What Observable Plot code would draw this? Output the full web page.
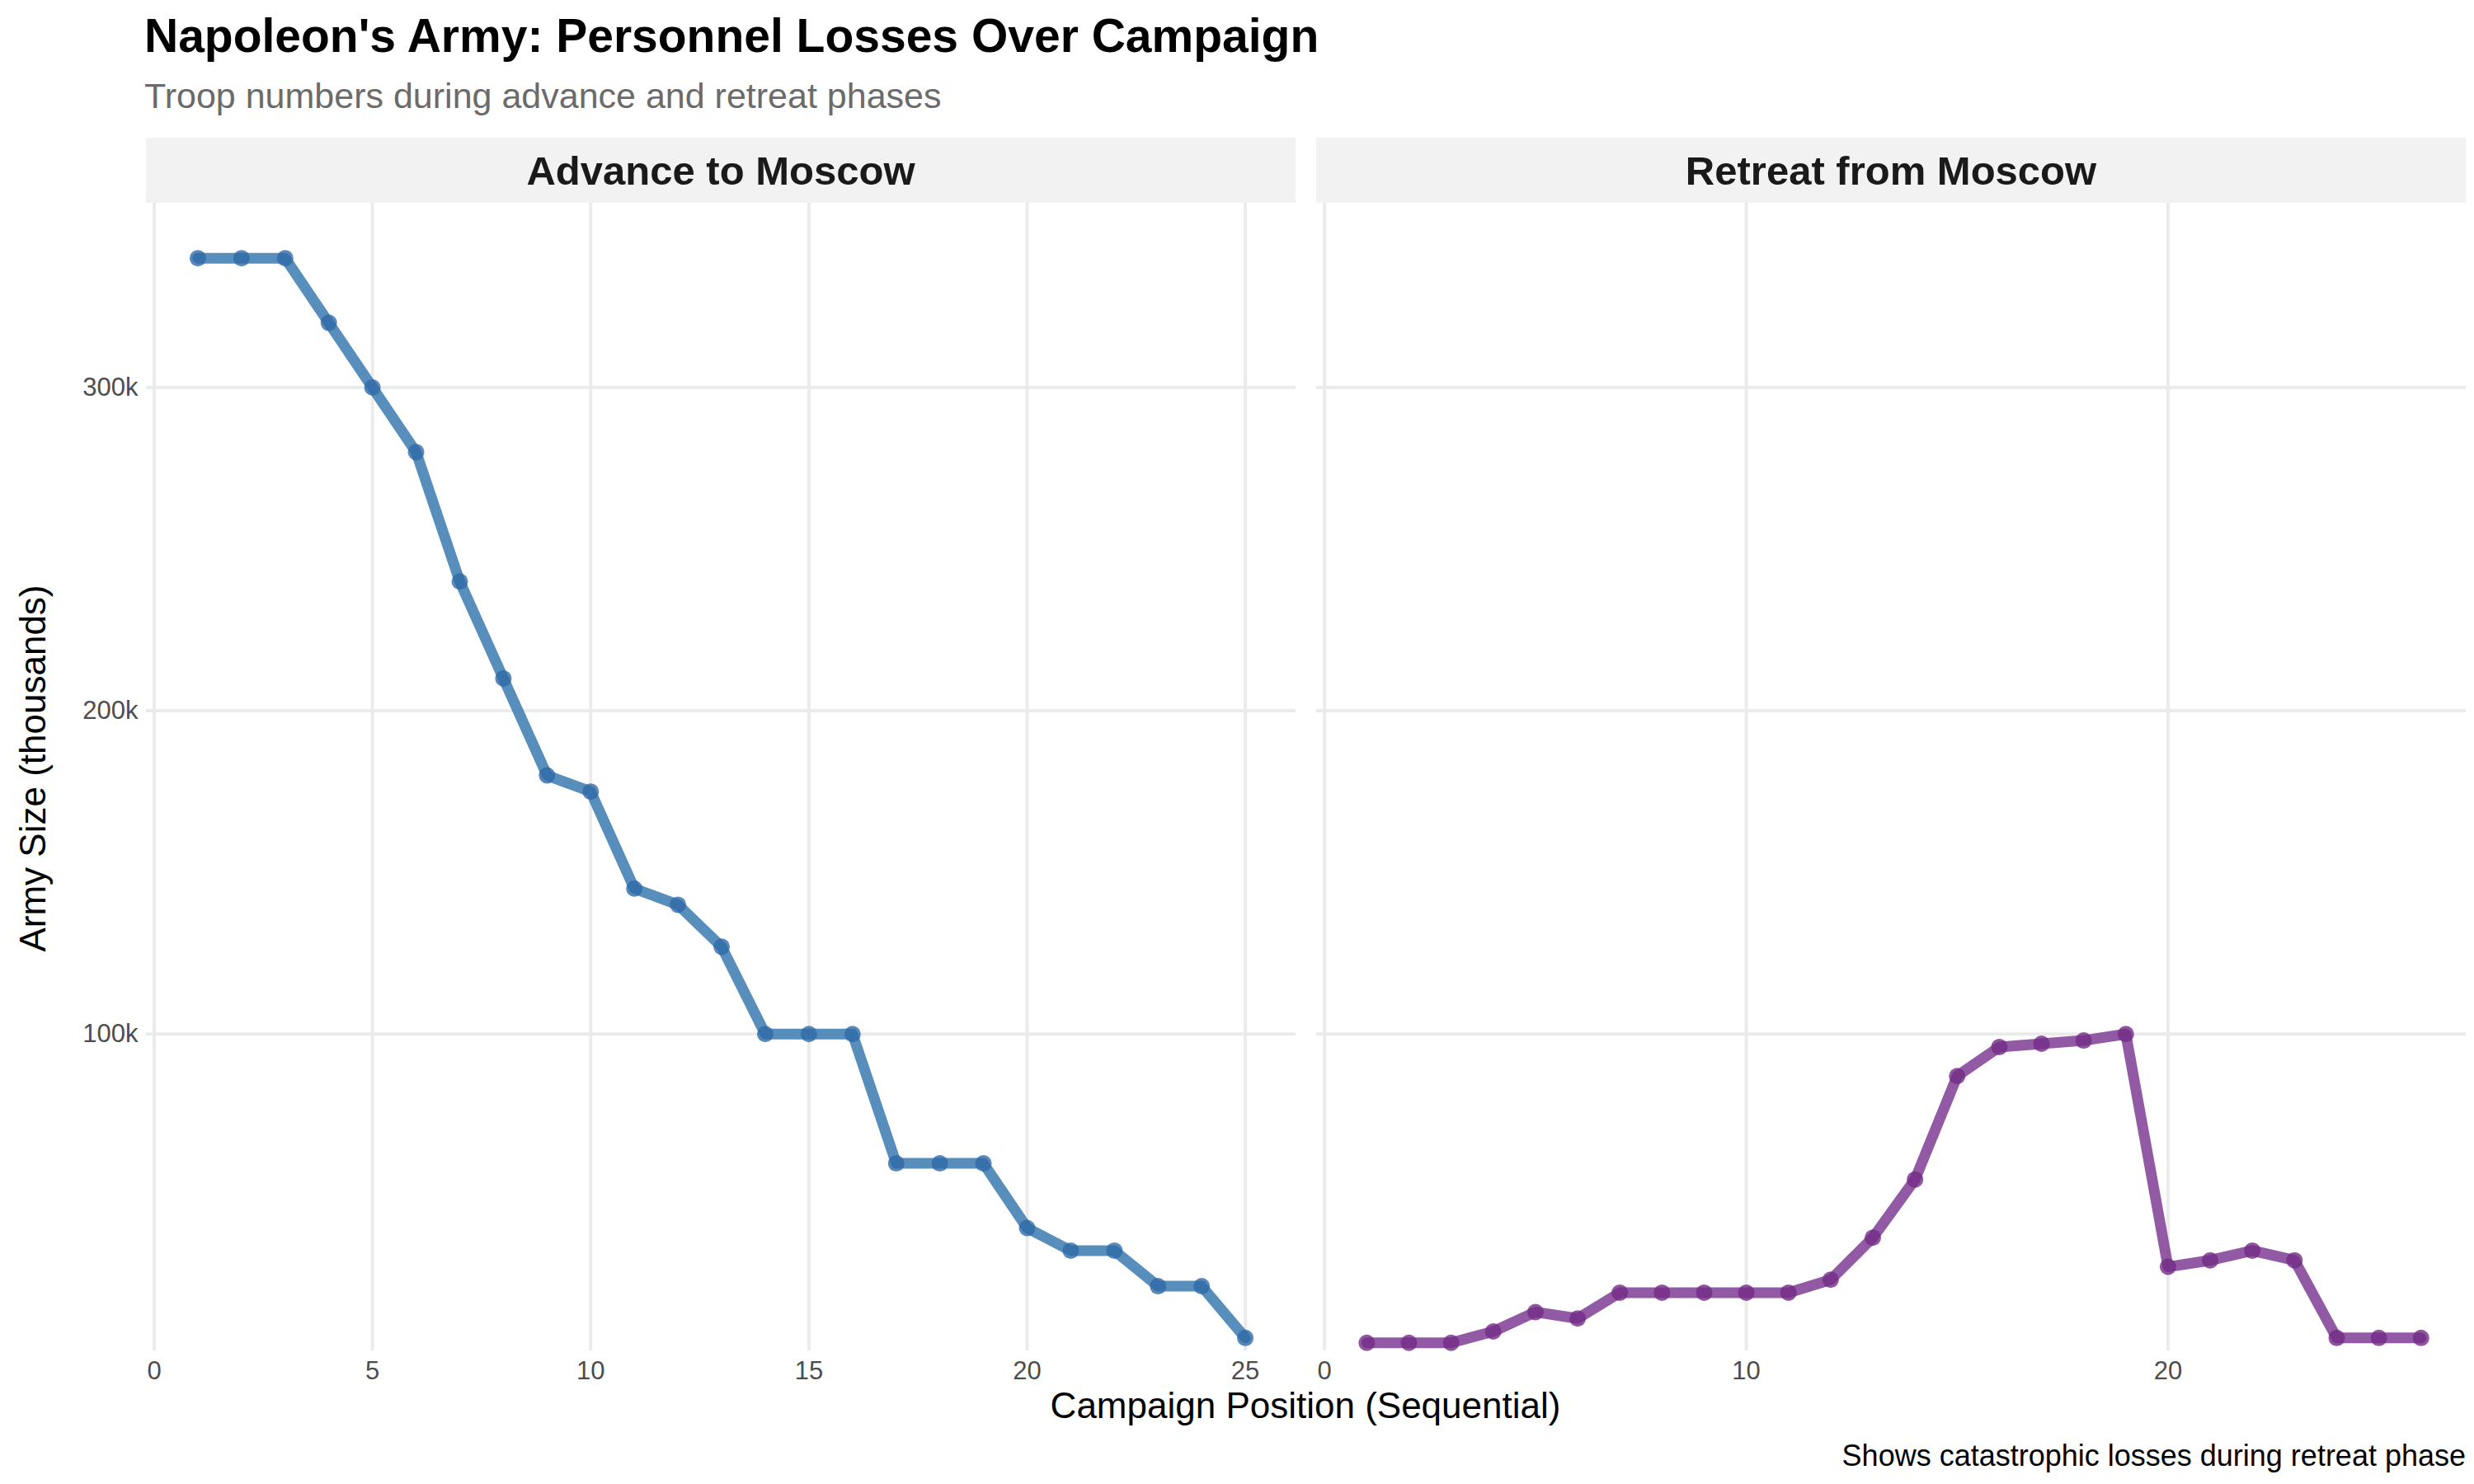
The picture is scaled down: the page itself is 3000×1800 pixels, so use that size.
<!DOCTYPE html>
<html><head><meta charset="utf-8">
<script src="https://cdn.jsdelivr.net/npm/d3@7"></script>
<script src="https://cdn.jsdelivr.net/npm/@observablehq/plot@0.6"></script>
<style>
body{margin:0;background:#fff;font-family:"Liberation Sans",Arial,sans-serif}
#wrap{position:relative;width:3000px;height:1800px}
.abs{position:absolute}
.strip{background:#f2f2f2;height:79px;top:167px;font-weight:bold;font-size:49px;color:#1a1a1a;display:flex;align-items:center;justify-content:center}
</style></head>
<body><div id="wrap">
<div class="abs" style="left:175px;top:10px;font-size:57px;font-weight:bold;color:#000">Napoleon's Army: Personnel Losses Over Campaign</div>
<div class="abs" style="left:175px;top:92px;font-size:43px;color:#6b6b6b">Troop numbers during advance and retreat phases</div>
<div class="abs strip" style="left:177px;width:1394px">Advance to Moscow</div>
<div class="abs strip" style="left:1596px;width:1394px">Retreat from Moscow</div>
<div class="abs" style="left:40px;top:932px;transform:translate(-50%,-50%) rotate(-90deg);font-size:44px;white-space:nowrap">Army Size (thousands)</div>
<div class="abs" id="left" style="left:0;top:246px"></div>
<div class="abs" id="right" style="left:1596px;top:246px"></div>
<div class="abs" style="left:1583px;top:1680px;transform:translateX(-50%);font-size:44px;white-space:nowrap">Campaign Position (Sequential)</div>
<div class="abs" style="right:10px;top:1745px;font-size:36px">Shows catastrophic losses during retreat phase</div>
</div>
<script>
const advance = [340,340,340,320,300,280,240,210,180,175,145,140,127,100,100,100,60,60,60,40,33,33,22,22,6]
const retreat = [4.5,4.5,4.5,8,14,12,20,20,20,20,20,24,37,55,87,96,97,98,100,28,30,33,30,6,6,6]
const yTicks = [100000,200000,300000]

function panel(values, xDomain, xTicks, color, dotColor, showY) {
  const data = values.map((v, i) => ({pos: i + 1, size: v * 1000}))
  return Plot.plot({
    width: showY ? 1571 : 1394,
    height: 1442,
    marginLeft: showY ? 177 : 0,
    marginRight: 0, marginTop: 0, marginBottom: 50,
    style: {fontFamily: '"Liberation Sans",Arial,sans-serif', fontSize: '31px', color: '#4d4d4d'},
    x: {domain: xDomain, label: null},
    y: {domain: [2000, 357000], label: null},
    marks: [
      Plot.gridX(xTicks, {stroke: '#ebebeb', strokeOpacity: 1, strokeWidth: 4}),
      Plot.gridY(yTicks, {stroke: '#ebebeb', strokeOpacity: 1, strokeWidth: 4}),
      Plot.axisX({ticks: xTicks, tickSize: 0, tickPadding: 12, label: null, fontSize: 31}),
      showY ? Plot.axisY({ticks: yTicks, tickSize: 0, tickPadding: 10, label: null, fontSize: 31, tickFormat: d => d / 1000 + 'k'}) : null,
      Plot.line(data, {x: 'pos', y: 'size', stroke: color, strokeWidth: 13, strokeOpacity: 0.9}),
      Plot.dot(data, {x: 'pos', y: 'size', r: 10, fill: dotColor, fillOpacity: 0.8})
    ]
  })
}

document.getElementById('left').append(panel(advance, [-0.18, 26.16], [0,5,10,15,20,25], '#4682b4', '#2f6aa8', true))
document.getElementById('right').append(panel(retreat, [-0.19, 27.07], [0,10,20], '#86479a', '#732a86', false))
</script></body></html>
